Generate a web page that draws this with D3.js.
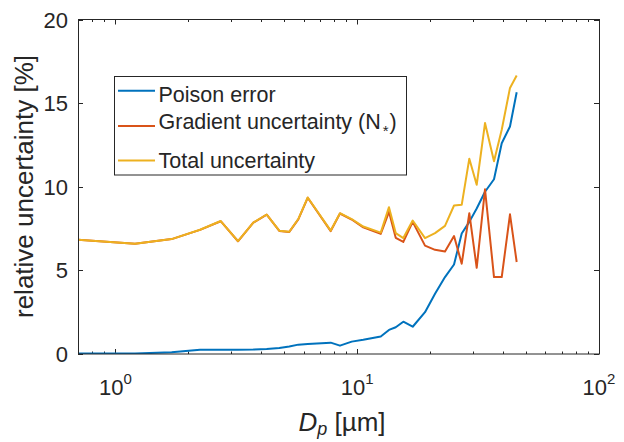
<!DOCTYPE html>
<html><head><meta charset="utf-8">
<script src="https://cdn.jsdelivr.net/npm/d3@7"></script>
<style>
body{margin:0;background:#fff}
svg{display:block}
text{font-family:Arial,"Liberation Sans",sans-serif;fill:#262626}
</style>
</head><body>
<svg id="c" width="624" height="442"></svg>
<script>
// Particle diameter D_p [µm]
const diameters = [0.70, 1.205, 1.708, 2.237, 2.725, 3.212, 3.717, 4.223, 4.761, 5.236, 5.705, 6.240,
  7.769, 8.485, 9.487, 10.59, 12.51, 13.53, 14.43, 15.51, 16.96, 19.07, 20.98, 23.07, 25.14, 27.05,
  29.08, 31.2, 33.77, 36.79, 39.6, 42.84, 45.66];
// Poison error [%]
const poisson = [0.03, 0.03, 0.10, 0.25, 0.26, 0.26, 0.27, 0.30, 0.36, 0.45, 0.56, 0.60,
  0.68, 0.50, 0.74, 0.85, 1.05, 1.44, 1.60, 1.93, 1.63, 2.50, 3.60, 4.60, 5.35, 7.20,
  7.90, 8.70, 9.70, 10.45, 12.60, 13.60, 15.65];
// Gradient uncertainty (N*) [%]
const gradient = [6.83, 6.59, 6.87, 7.42, 7.94, 6.74, 7.85, 8.33, 7.36, 7.30, 8.05, 9.34,
  7.35, 8.40, 8.04, 7.57, 7.18, 8.50, 6.95, 6.70, 7.90, 6.48, 6.23, 6.13, 7.05, 5.40,
  8.42, 5.15, 9.85, 4.60, 4.60, 8.35, 5.50];
// Total uncertainty [%]
const total = [6.83, 6.59, 6.87, 7.43, 7.95, 6.75, 7.86, 8.34, 7.37, 7.31, 8.07, 9.36,
  7.38, 8.42, 8.07, 7.62, 7.26, 8.78, 7.23, 6.93, 7.98, 6.93, 7.23, 7.66, 8.88, 8.92,
  11.68, 10.12, 13.81, 11.52, 13.41, 15.91, 16.65];

const seriesNames = ["Poison error", "Gradient uncertainty (N", "Total uncertainty"];
const seriesColors = ["#0072BD", "#D95319", "#EDB120"];
const yTicks = [0, 5, 10, 15, 20];
const xTickExps = [0, 1, 2];
const xLabel = "D";
const xLabelSub = "p";
const xLabelRest = " [µm]";
const yLabel = "relative uncertainty [%]";

const svg = d3.select("#c");
const L = 78, R = 599, T = 19.5, B = 354;
const x = d3.scaleLog().domain([0.7, 100]).range([L, R]);
const y = d3.scaleLinear().domain([0, 20]).range([B, T]);
const axisColor = "#262626";

// ticks (inward, all four sides)
const minor = [];
[0.1, 1, 10].forEach(d => { for (let k = 2; k <= 9; k++) { const v = d * k; if (v >= 0.7 && v < 100) minor.push(v); } });
const gT = svg.append("g").attr("stroke", axisColor).attr("stroke-width", 1);
minor.forEach(v => {
  const px = Math.round(x(v)) + 0.5;
  gT.append("line").attr("x1", px).attr("x2", px).attr("y1", B).attr("y2", B - 2.5);
  gT.append("line").attr("x1", px).attr("x2", px).attr("y1", T).attr("y2", T + 2.5);
});
xTickExps.forEach(e => {
  const px = Math.round(x(Math.pow(10, e))) + 0.5;
  gT.append("line").attr("x1", px).attr("x2", px).attr("y1", B).attr("y2", B - 5);
  gT.append("line").attr("x1", px).attr("x2", px).attr("y1", T).attr("y2", T + 5);
});
yTicks.forEach(v => {
  const py = Math.round(y(v)) + 0.5;
  gT.append("line").attr("x1", L).attr("x2", L + 5).attr("y1", py).attr("y2", py);
  gT.append("line").attr("x1", R).attr("x2", R - 5).attr("y1", py).attr("y2", py);
});

// data lines
svg.append("clipPath").attr("id", "clp").append("rect")
  .attr("x", L).attr("y", T).attr("width", R - L).attr("height", B - T);
const line = d3.line().x((d, i) => x(diameters[i])).y(d => y(d));
const plot = svg.append("g").attr("clip-path", "url(#clp)");
[poisson, gradient, total].forEach((s, i) => {
  plot.append("path").datum(s).attr("d", line).attr("fill", "none")
    .attr("stroke", seriesColors[i]).attr("stroke-width", 2).attr("stroke-linejoin", "round");
});

// axes box
svg.append("rect").attr("x", L + 0.5).attr("y", T).attr("width", R - L).attr("height", B - T)
  .attr("fill", "none").attr("stroke", axisColor).attr("stroke-width", 1);

// tick labels
yTicks.forEach(v => {
  svg.append("text").attr("x", 68).attr("y", y(v) + 8).attr("text-anchor", "end")
    .attr("font-size", 22).text(v);
});
xTickExps.forEach(e => {
  const t = svg.append("text").attr("x", x(Math.pow(10, e))).attr("y", 395)
    .attr("text-anchor", "middle").attr("font-size", 22);
  t.append("tspan").text("10");
  t.append("tspan").attr("dy", -11).attr("font-size", 15).text(e);
});

// axis labels
const xl = svg.append("text").attr("x", 342).attr("y", 431).attr("text-anchor", "middle").attr("font-size", 26);
xl.append("tspan").attr("font-style", "italic").text(xLabel);
xl.append("tspan").attr("font-style", "italic").attr("font-size", 18).attr("dy", 4).text(xLabelSub);
xl.append("tspan").attr("dy", -4).text(xLabelRest);
svg.append("text").attr("transform", "translate(33,186.5) rotate(-90)")
  .attr("text-anchor", "middle").attr("font-size", 26).text(yLabel);

// legend
const lg = svg.append("g");
lg.append("rect").attr("x", 114.5).attr("y", 76.5).attr("width", 292).attr("height", 98.5)
  .attr("fill", "#fff").attr("stroke", axisColor).attr("stroke-width", 1);
const lineYs = [90.7, 126, 160.5];
const textYs = [101.7, 129.3, 167.7];
seriesNames.forEach((n, i) => {
  lg.append("line").attr("x1", 118).attr("x2", 155).attr("y1", lineYs[i]).attr("y2", lineYs[i])
    .attr("stroke", seriesColors[i]).attr("stroke-width", 2);
  const t = lg.append("text").attr("x", 158.5).attr("y", textYs[i]).attr("font-size", 21.5).text(n);
  if (i === 1) {
    t.append("tspan").attr("font-size", 15).attr("dy", 7).attr("dx", 2).text("*");
    t.append("tspan").attr("dy", -7).attr("dx", 1).text(")");
  }
});
</script>
</body></html>
